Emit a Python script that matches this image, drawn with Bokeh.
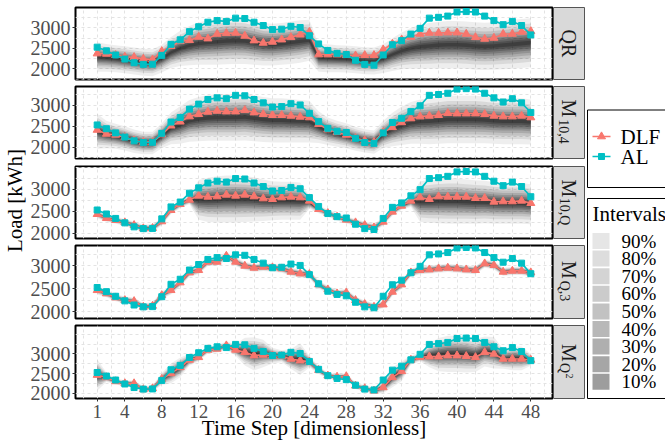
import math
from bokeh.plotting import figure
from bokeh.layouts import row, column
from bokeh.models import Range1d, FixedTicker
from bokeh.embed import file_html
from bokeh.resources import INLINE
from bokeh.core.properties import value

# ---------------- data ----------------
steps = list(range(1, 49))
x_ticks = [1, 4, 8, 12, 16, 20, 24, 28, 32, 36, 40, 44, 48]
x_minor = [-0.5, 2.5, 6, 10, 14, 18, 22, 26, 30, 34, 38, 42, 46, 49.5]
y_ticks = [2000, 2500, 3000]
y_minor = [1750, 2250, 2750, 3250, 3500]

al = [2530, 2440, 2340, 2240, 2150, 2110, 2115, 2330, 2600, 2710, 2910, 3030,
      3140, 3180, 3160, 3240, 3230, 3140, 3060, 2960, 2970, 3040, 3010, 2810,
      2610, 2450, 2380, 2350, 2210, 2110, 2090, 2340, 2590, 2690, 2850, 2990,
      3240, 3260, 3290, 3390, 3400, 3390, 3290, 3180, 3080, 3160, 3060, 2830]

dlf_qr = [2374, 2366, 2333, 2293, 2285, 2244, 2228, 2431, 2553, 2675, 2699, 2780,
          2740, 2854, 2870, 2878, 2805, 2691, 2634, 2659, 2715, 2772, 2837, 2902,
          2350, 2350, 2350, 2333, 2325, 2333, 2333, 2472, 2610, 2715, 2780, 2854,
          2878, 2878, 2886, 2886, 2854, 2772, 2732, 2756, 2854, 2854, 2902, 2919]
dlf_m104 = [2410, 2315, 2292, 2237, 2158, 2118, 2118, 2300, 2512, 2607, 2732, 2787,
            2843, 2866, 2850, 2850, 2882, 2827, 2787, 2764, 2764, 2748, 2724, 2709,
            2551, 2420, 2355, 2292, 2213, 2158, 2118, 2355, 2473, 2591, 2685, 2732,
            2748, 2764, 2811, 2803, 2803, 2803, 2787, 2748, 2732, 2732, 2748, 2709]
dlf_m10q = [2436, 2346, 2301, 2248, 2188, 2113, 2120, 2271, 2526, 2662, 2759, 2850,
            2827, 2835, 2872, 2850, 2872, 2835, 2789, 2774, 2812, 2827, 2812, 2737,
            2549, 2459, 2376, 2308, 2248, 2188, 2135, 2263, 2489, 2624, 2737, 2812,
            2774, 2835, 2827, 2827, 2827, 2797, 2797, 2714, 2722, 2722, 2737, 2684]
dlf_mq3 = [2471, 2399, 2312, 2254, 2232, 2109, 2130, 2362, 2471, 2638, 2855, 2906,
           3087, 3087, 3217, 3087, 3000, 2957, 2978, 2964, 2942, 2870, 2833, 2819,
           2594, 2486, 2399, 2420, 2254, 2167, 2109, 2159, 2435, 2594, 2855, 2906,
           2920, 2942, 2957, 2942, 2920, 2906, 3051, 3014, 2870, 2891, 2891, 2855]
dlf_mq2 = [2466, 2407, 2305, 2254, 2254, 2102, 2128, 2365, 2509, 2661, 2848, 2915,
           3102, 3127, 3212, 3102, 3042, 2958, 2975, 2958, 2941, 2873, 2831, 2805,
           2590, 2450, 2420, 2432, 2195, 2128, 2068, 2153, 2407, 2560, 2848, 2915,
           2932, 2932, 2958, 2958, 2941, 2915, 3042, 3000, 2873, 2873, 2873, 2848]

# fan centre and 90%-interval half width, per model
fan_mid_qr = [2290, 2270, 2250, 2220, 2190, 2160, 2150, 2250, 2400, 2500, 2570, 2620,
              2640, 2660, 2680, 2690, 2680, 2640, 2600, 2590, 2610, 2640, 2670, 2700,
              2270, 2260, 2250, 2240, 2220, 2200, 2190, 2250, 2350, 2440, 2500, 2540,
              2560, 2580, 2590, 2590, 2580, 2560, 2550, 2560, 2580, 2600, 2620, 2640]
fan_hw_qr = [360, 340, 330, 330, 330, 330, 330, 340, 380, 430, 480, 520,
             540, 560, 570, 570, 560, 540, 520, 510, 510, 520, 520, 500,
             340, 340, 330, 330, 330, 330, 330, 350, 400, 450, 500, 540,
             560, 570, 580, 580, 580, 580, 580, 580, 590, 600, 600, 600]
fan_mid_m104 = [2380, 2300, 2260, 2210, 2140, 2100, 2100, 2270, 2450, 2530, 2630, 2670,
                2700, 2710, 2710, 2710, 2720, 2690, 2660, 2640, 2640, 2630, 2620, 2610,
                2480, 2380, 2320, 2270, 2200, 2150, 2120, 2300, 2420, 2510, 2580, 2610,
                2620, 2640, 2660, 2660, 2660, 2660, 2650, 2630, 2620, 2620, 2620, 2600]
fan_hw_m104 = [420, 330, 300, 290, 280, 270, 270, 300, 380, 450, 500, 530,
               550, 560, 560, 560, 560, 550, 540, 530, 530, 520, 510, 500,
               380, 330, 310, 300, 290, 280, 280, 330, 400, 460, 500, 530,
               550, 560, 570, 570, 570, 570, 560, 550, 550, 550, 550, 540]
fan_mid_m10q = [2436, 2346, 2301, 2248, 2188, 2113, 2120, 2271, 2526, 2662, 2759, 2760,
                2760, 2770, 2780, 2780, 2780, 2770, 2750, 2740, 2740, 2740, 2730, 2700,
                2549, 2459, 2376, 2308, 2248, 2188, 2135, 2263, 2489, 2624, 2720, 2720,
                2720, 2730, 2730, 2730, 2720, 2710, 2710, 2690, 2680, 2680, 2680, 2660]
fan_hw_m10q = [90, 80, 80, 80, 80, 90, 90, 90, 90, 90, 100, 450,
               500, 520, 530, 530, 520, 500, 470, 440, 430, 430, 420, 150,
               90, 80, 80, 80, 80, 80, 90, 90, 90, 90, 120, 460,
               480, 500, 510, 510, 500, 490, 480, 470, 460, 460, 460, 450]
fan_mid_mq3 = dlf_mq3
fan_hw_mq3 = [90, 80, 80, 80, 80, 80, 80, 80, 90, 90, 90, 90,
              90, 90, 90, 90, 90, 90, 90, 90, 90, 90, 90, 90,
              90, 80, 80, 80, 80, 80, 80, 80, 90, 90, 90, 90,
              90, 90, 90, 90, 90, 90, 90, 90, 90, 90, 90, 90]
fan_mid_mq2 = [2466, 2407, 2305, 2254, 2254, 2102, 2128, 2365, 2509, 2661, 2848, 2915,
               3102, 3127, 3212, 3102, 3060, 3000, 3010, 2958, 2941, 2873, 2870, 2805,
               2590, 2450, 2420, 2432, 2195, 2128, 2068, 2153, 2407, 2560, 2848, 2915,
               2960, 2980, 3000, 3000, 2990, 2960, 3060, 3030, 2873, 2890, 2890, 2848]
fan_hw_mq2 = [400, 120, 80, 80, 80, 80, 80, 150, 250, 250, 150, 100,
              90, 90, 100, 150, 350, 420, 350, 200, 150, 250, 400, 150,
              100, 80, 80, 80, 80, 80, 80, 150, 250, 250, 120, 100,
              300, 420, 460, 460, 460, 420, 380, 400, 250, 300, 300, 150]

interval_labels = ["90%", "80%", "70%", "60%", "50%", "40%", "30%", "20%", "10%"]
interval_z = [1.645, 1.282, 1.036, 0.842, 0.674, 0.524, 0.385, 0.253, 0.126]

panel_yrange = [(1740, 3500), (1726, 3452), (1887, 3512), (1857, 3443), (1873, 3718)]

# ---------------- styling ----------------
SERIF = "Liberation Serif"
DLF_COL = "#F8766D"
AL_COL = "#00BFC4"
GRID_COL = "#E3E3E3"
band_alpha = [0.065, 0.085, 0.10, 0.12, 0.14, 0.16, 0.18, 0.20, 0.22]
key_colors = ["#E6E6E6", "#DDDDDD", "#D4D4D4", "#CBCBCB", "#C2C2C2",
              "#B8B8B8", "#AFAFAF", "#A6A6A6", "#9D9D9D"]

fig_h = [84, 80, 79, 80, 124]
b_top = [7, 2, 2, 2, 2]
b_bot = [5, 6, 5, 5, 49]
YLAB_W = 27
PANEL_W = 526
STRIP_W = 32
LEG_W = 665 - YLAB_W - PANEL_W - STRIP_W
PAGE_H = 447

panel_data = [
    (dlf_qr, fan_mid_qr, fan_hw_qr),
    (dlf_m104, fan_mid_m104, fan_hw_m104),
    (dlf_m10q, fan_mid_m10q, fan_hw_m10q),
    (dlf_mq3, fan_mid_mq3, fan_hw_mq3),
    (dlf_mq2, fan_mid_mq2, fan_hw_mq2),
]

# strip labels: (text, size px, dx from centre, dy along reading direction)
strip_parts = [
    [("QR", 20, 0, 0)],
    [("M", 20, 0, -14), ("10,4", 14, -5, 9)],
    [("M", 20, 0, -14), ("10,Q", 14, -5, 9)],
    [("M", 20, 0, -12), ("Q,3", 14, -5, 9)],
    [("M", 20, 0, -9), ("Q", 14, -5, 6), ("2", 10, 0, 14)],
]


def make_panel(i):
    dlf, mid, hw = panel_data[i]
    last = i == 4
    p = figure(width=PANEL_W, height=fig_h[i],
               x_range=Range1d(-1.35, 50.35), y_range=Range1d(*panel_yrange[i]),
               output_backend="svg", toolbar_location=None,
               x_axis_location="below" if last else None,
               min_border_left=47, min_border_right=1,
               min_border_top=b_top[i], min_border_bottom=b_bot[i])
    p.background_fill_color = "white"
    p.border_fill_color = "white"
    p.outline_line_color = "black"
    p.outline_line_width = 2

    for g, tk, mn in ((p.xgrid, x_ticks, x_minor), (p.ygrid, y_ticks, y_minor)):
        g.ticker = FixedTicker(ticks=tk, minor_ticks=mn)
        g.grid_line_color = GRID_COL
        g.grid_line_dash = "3 3"
        g.grid_line_width = 1
        g.minor_grid_line_color = GRID_COL
        g.minor_grid_line_dash = "3 3"
        g.minor_grid_line_width = 1

    axes = [p.yaxis[0]] + ([p.xaxis[0]] if last else [])
    for ax in axes:
        ax.axis_line_color = None
        ax.major_tick_in = 0
        ax.major_tick_out = 3
        ax.major_tick_line_color = "#333333"
        ax.minor_tick_line_color = None
        ax.major_label_text_font = SERIF
        ax.major_label_text_font_size = "19px"
        ax.major_label_text_color = "#4D4D4D"
    p.yaxis.ticker = FixedTicker(ticks=y_ticks, minor_ticks=y_minor)
    p.yaxis.major_label_standoff = 1
    p.yaxis.major_label_text_font_size = "20px"
    if last:
        p.xaxis.ticker = FixedTicker(ticks=x_ticks, minor_ticks=x_minor)
        p.xaxis.major_label_standoff = 2
        p.xaxis.axis_label = "Time Step [dimensionless]"
        p.xaxis.axis_label_text_font = SERIF
        p.xaxis.axis_label_text_font_size = "21px"
        p.xaxis.axis_label_text_font_style = "normal"
        p.xaxis.axis_label_text_color = "black"
        p.xaxis.axis_label_standoff = -5

    # fan of prediction intervals
    z90 = interval_z[0]
    for z, a in zip(interval_z, band_alpha):
        lo = [m - h * z / z90 for m, h in zip(mid, hw)]
        hi = [m + h * z / z90 for m, h in zip(mid, hw)]
        p.varea(x=steps, y1=lo, y2=hi, fill_color="black", fill_alpha=a)

    p.line(steps, dlf, line_color=DLF_COL, line_width=1.6)
    p.scatter(steps, dlf, marker="triangle", size=8, fill_color=DLF_COL, line_color=DLF_COL)
    p.line(steps, al, line_color=AL_COL, line_width=1.6)
    p.scatter(steps, al, marker="square", size=6, fill_color=AL_COL, line_color=AL_COL)
    return p


def make_strip(i):
    fh = fig_h[i] - b_top[i] - b_bot[i]
    s = figure(width=STRIP_W, height=fig_h[i], x_range=Range1d(0, STRIP_W - 1),
               y_range=Range1d(0, fh), output_backend="svg", toolbar_location=None,
               x_axis_location=None, y_axis_location=None,
               min_border_left=0, min_border_right=1,
               min_border_top=b_top[i], min_border_bottom=b_bot[i])
    s.grid.visible = False
    s.background_fill_color = "#D9D9D9"
    s.border_fill_color = "white"
    s.outline_line_color = "#555555"
    s.outline_line_width = 1
    cx = (STRIP_W - 1) / 2
    cy = fh / 2
    for txt, size, dx, dy in strip_parts[i]:
        s.text(x=[cx + dx], y=[cy - dy], text=[txt], angle=-math.pi / 2,
               text_align="center", text_baseline="middle",
               text_font=value(SERIF), text_font_size=f"{size}px", text_color="#1A1A1A")
    return s


# y-axis title
ylab = figure(width=YLAB_W, height=PAGE_H, x_range=Range1d(0, YLAB_W),
              y_range=Range1d(PAGE_H, 0), output_backend="svg", toolbar_location=None,
              x_axis_location=None, y_axis_location=None, min_border=0)
ylab.grid.visible = False
ylab.outline_line_color = None
ylab.text(x=[14.6], y=[200], text=["Load [kWh]"], angle=math.pi / 2,
          text_align="center", text_baseline="middle",
          text_font=value(SERIF), text_font_size="21px", text_color="black")

# legends (page pixel coordinates)
x0 = YLAB_W + PANEL_W + STRIP_W
leg = figure(width=LEG_W, height=PAGE_H, x_range=Range1d(x0, 665),
             y_range=Range1d(PAGE_H, 0), output_backend="svg", toolbar_location=None,
             x_axis_location=None, y_axis_location=None, min_border=0)
leg.grid.visible = False
leg.outline_line_color = None
leg.quad(left=[587], right=[720], top=[109.5], bottom=[187],
         fill_color="white", line_color="black", line_width=1)
leg.line([592, 610], [136, 136], line_color=DLF_COL, line_width=1.6)
leg.scatter([601], [136], marker="triangle", size=8, fill_color=DLF_COL, line_color=DLF_COL)
leg.line([592, 610], [156, 156], line_color=AL_COL, line_width=1.6)
leg.scatter([601], [156], marker="square", size=6, fill_color=AL_COL, line_color=AL_COL)
leg.text(x=[620, 620], y=[136, 156], text=["DLF", "AL"], text_align="left",
         text_baseline="middle", text_font=value(SERIF), text_font_size="21px",
         text_color="black")

leg.quad(left=[587], right=[720], top=[198], bottom=[398],
         fill_color="white", line_color="black", line_width=1)
leg.text(x=[592], y=[213], text=["Intervals"], text_align="left", text_baseline="middle",
         text_font=value(SERIF), text_font_size="21px", text_color="black")
key_y = [240.5 + 17.6 * k for k in range(len(interval_labels))]
leg.quad(left=[592] * 9, right=[609] * 9, top=[y - 8 for y in key_y],
         bottom=[y + 8 for y in key_y], fill_color=key_colors, line_color=None)
leg.text(x=[621] * 9, y=key_y, text=interval_labels, text_align="left",
         text_baseline="middle", text_font=value(SERIF), text_font_size="19px",
         text_color="black")

rows = [row(make_panel(i), make_strip(i)) for i in range(5)]
layout = row(ylab, column(*rows), leg)

open("out.html", "w").write(file_html(layout, INLINE))
